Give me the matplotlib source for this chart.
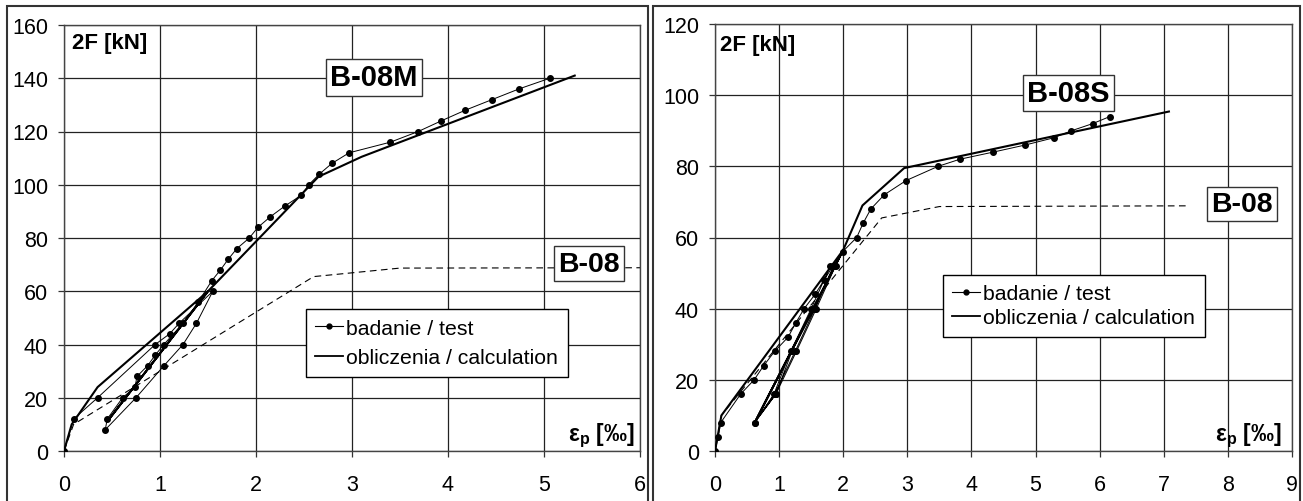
import numpy as np
import matplotlib
matplotlib.use('Agg')
import matplotlib.pyplot as plt
from matplotlib.lines import Line2D
from matplotlib.patches import Rectangle

plt.rcParams['font.family'] = ['Liberation Sans', 'DejaVu Sans']
plt.rcParams['mathtext.fontset'] = 'custom'
plt.rcParams['mathtext.rm'] = 'Liberation Sans'
plt.rcParams['mathtext.bf'] = 'Liberation Sans:bold'

# B-08M (left) - test
test_m_x = [0, 0.10, 0.35, 0.95, 1.10, 1.20, 1.55, 1.38, 1.24, 1.04, 0.75, 0.43, 0.45, 0.61, 0.74,
            0.76, 0.87, 0.95, 1.04, 1.24, 1.40, 1.54, 1.63, 1.71, 1.80, 1.93, 2.02, 2.15, 2.30,
            2.47, 2.55, 2.66, 2.79, 2.97, 3.40, 3.69, 3.93, 4.18, 4.46, 4.74, 5.06]
test_m_y = [0, 12, 20, 40, 44, 48, 60, 48, 40, 32, 20, 8, 12, 20, 24,
            28, 32, 36, 40, 48, 56, 64, 68, 72, 76, 80, 84, 88, 92,
            96, 100, 104, 108, 112, 116, 120, 124, 128, 132, 136, 140]
# B-08M - calculation
calc_m_x = [0, 0.08, 0.35, 1.50, 0.47, 1.50, 2.65, 3.10, 5.32]
calc_m_y = [0, 10, 24, 60, 12, 60, 103, 110.5, 141]

# B-08S (right) - test
test_s_x = [0, 0.05, 0.09, 0.40, 0.61, 0.76, 0.93, 1.14, 1.26, 1.39, 1.56, 1.70, 1.84,
            1.88, 1.58, 1.27, 0.95, 0.62, 0.92, 1.18, 1.50, 1.80,
            1.86, 1.56, 1.25, 0.93, 0.62, 0.95, 1.20, 1.55, 1.85,
            1.99, 2.21, 2.31, 2.43, 2.64, 2.98, 3.48, 3.82, 4.34, 4.84, 5.28, 5.56, 5.89, 6.16]
test_s_y = [0, 4, 8, 16, 20, 24, 28, 32, 36, 40, 44, 48, 52,
            52, 40, 28, 16, 8, 16, 28, 40, 52,
            52, 40, 28, 16, 8, 16, 28, 40, 52,
            56, 60, 64, 68, 72, 76, 80, 82, 84, 86, 88, 90, 92, 94]
# B-08S - calculation
calc_s_x = [0, 0.10, 2.0, 0.62, 2.0, 2.3, 2.95, 7.08]
calc_s_y = [0, 10, 56.5, 8, 56.5, 69, 79.5, 95.4]

# B-08 reference beam (dashed)
ref_x = [0, 0.10, 2.6, 3.5, 7.4]
ref_y = [0, 10, 65.5, 68.7, 68.9]

fig = plt.figure(figsize=(13.03, 5.02), dpi=100)

# panel frames
fig.patches.append(Rectangle((7/1303, -0.01), 641/1303, 0.996, transform=fig.transFigure,
                             fill=False, ec='#333333', lw=1.5))
fig.patches.append(Rectangle((653/1303, -0.01), 647/1303, 0.996, transform=fig.transFigure,
                             fill=False, ec='#333333', lw=1.5))

ax1 = fig.add_axes([64/1303, 50/502, 576/1303, 426/502])
ax2 = fig.add_axes([715/1303, 50/502, 577/1303, 427/502])

def style(ax, xmax, ymax):
    ax.set_xlim(0, xmax)
    ax.set_ylim(0, ymax)
    ax.set_xticks(np.arange(0, xmax + 1, 1))
    ax.set_yticks(np.arange(0, ymax + 1, 20))
    ax.grid(True, color='#222222', lw=0.9)
    ax.set_axisbelow(True)
    for s in ax.spines.values():
        s.set_color('#444444')
        s.set_linewidth(1.0)
    ax.tick_params(direction='out', length=4.5, width=0.9, color='#333333', labelsize=15.5)
    ax.tick_params(axis='x', pad=12)
    ax.tick_params(axis='y', pad=7)

style(ax1, 6, 160)
style(ax2, 9, 120)

for ax, tx, ty, cx, cy in [(ax1, test_m_x, test_m_y, calc_m_x, calc_m_y),
                           (ax2, test_s_x, test_s_y, calc_s_x, calc_s_y)]:
    ax.plot(ref_x, ref_y, color='black', lw=0.8, dashes=(6, 4), zorder=2)
    ax.plot(cx, cy, color='black', lw=1.5, zorder=3)
    ax.plot(tx, ty, color='black', lw=0.7, marker='o', ms=4, zorder=4)

# labels
box = dict(boxstyle='square,pad=0.15', fc='white', ec='#333333', lw=1.0)
ax1.text(0.014, 0.958, '2F [kN]', transform=ax1.transAxes, fontsize=16, fontweight='bold', va='center')
ax2.text(0.009, 0.953, '2F [kN]', transform=ax2.transAxes, fontsize=16, fontweight='bold', va='center')
ax1.text(3.23, 140.4, 'B-08M', fontsize=21, fontweight='bold', ha='center', va='center', bbox=box, zorder=6)
ax1.text(5.47, 70.4, 'B-08', fontsize=20.5, fontweight='bold', ha='center', va='center', bbox=box, zorder=6)
ax2.text(5.51, 100.6, 'B-08S', fontsize=21, fontweight='bold', ha='center', va='center', bbox=box, zorder=6)
ax2.text(8.22, 69.4, 'B-08', fontsize=20.5, fontweight='bold', ha='center', va='center', bbox=box, zorder=6)
ax1.text(0.990, 0.025, r'ε$_{\mathbf{p}}$ [‰]', transform=ax1.transAxes, fontsize=16.5,
         fontweight='bold', ha='right', va='baseline')
ax2.text(0.983, 0.025, r'ε$_{\mathbf{p}}$ [‰]', transform=ax2.transAxes, fontsize=16.5,
         fontweight='bold', ha='right', va='baseline')

handles = [Line2D([], [], color='black', lw=0.8, marker='o', ms=3.5),
           Line2D([], [], color='black', lw=1.3)]
names = ['badanie / test', 'obliczenia / calculation']
for ax, anchor, sp in [(ax1, (0.42, 0.174), 0.5), (ax2, (0.395, 0.267), 0.25)]:
    leg = ax.legend(handles, names, loc='lower left', bbox_to_anchor=anchor, fontsize=15.3,
                    frameon=True, fancybox=False, framealpha=1, edgecolor='black',
                    handlelength=1.3, handletextpad=0.15, borderpad=0.45, labelspacing=sp,
                    borderaxespad=0)
    leg.get_frame().set_linewidth(1.0)
    leg.set_zorder(7)

fig.savefig('out.png', dpi=100)
